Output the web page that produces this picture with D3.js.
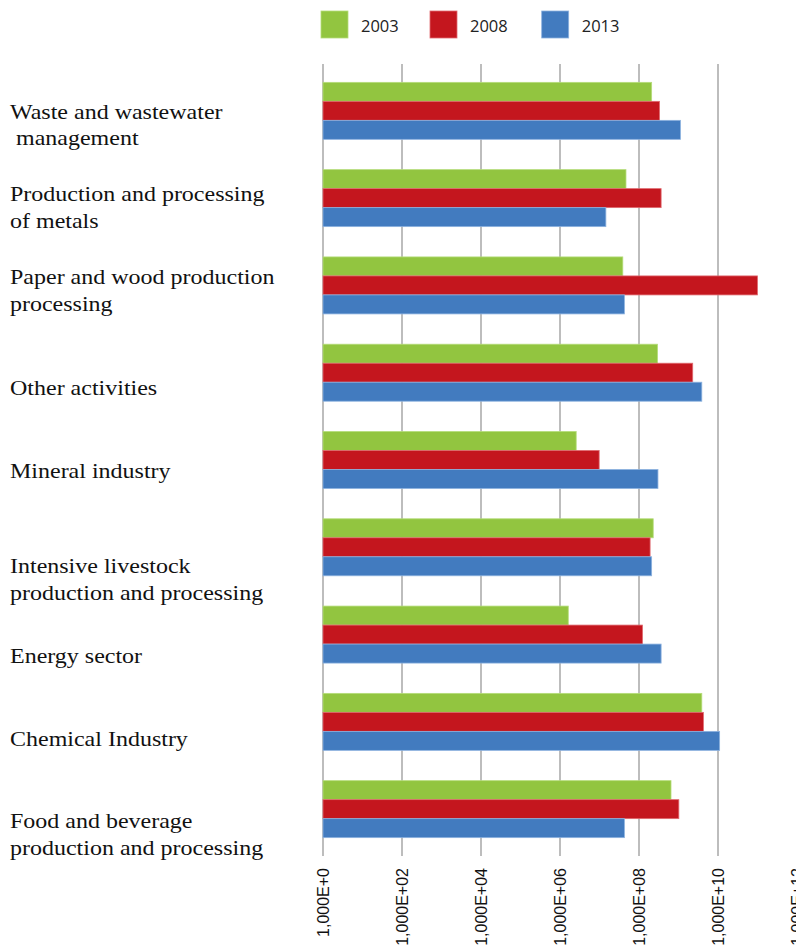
<!DOCTYPE html>
<html>
<head>
<meta charset="utf-8">
<script src="https://cdn.jsdelivr.net/npm/d3@7/dist/d3.min.js"></script>
<style>
  html, body { margin: 0; padding: 0; background: #fff; }
  svg { display: block; }
</style>
</head>
<body>
<svg id="chart" width="796" height="949"></svg>
<script>
// ---- data ----
const categories = [
  "Waste and wastewater\n management",
  "Production and processing\nof metals",
  "Paper and wood production\nprocessing",
  "Other activities",
  "Mineral industry",
  "Intensive livestock\nproduction and processing",
  "Energy sector",
  "Chemical Industry",
  "Food and beverage\nproduction and processing"
];
const seriesNames = ["2003", "2008", "2013"];
const values2003 = [2.09e8, 4.68e7, 3.89e7, 2.95e8, 2.57e6, 2.29e8, 1.62e6, 3.89e9, 6.46e8];
const values2008 = [3.31e8, 3.63e8, 1.0e11, 2.29e9, 9.8e6, 1.91e8, 1.23e8, 4.27e9, 1.02e9];
const values2013 = [1.12e9, 1.45e7, 4.27e7, 3.89e9, 3.02e8, 2.09e8, 3.63e8, 1.10e10, 4.27e7];
const tickValues = [1, 1e2, 1e4, 1e6, 1e8, 1e10, 1e12];
const tickLabels = ["1,000E+0", "1,000E+02", "1,000E+04", "1,000E+06", "1,000E+08", "1,000E+10", "1,000E+12"];

// ---- layout / style ----
const colors = ["#92c540", "#c4161e", "#427bbf"];
const strokes = ["#b5dc7a", "#e06a70", "#8db2df"];
const labelShift = [7.7, 2.9, -1.1, 22.3, 18.3, 26, 28.1, 24.1, 19.1];

const svg = d3.select("#chart");
const series = [values2003, values2008, values2013];

const x = d3.scaleLog().domain([1, 1e12]).range([323, 797]);
const y = d3.scaleBand().domain(d3.range(categories.length))
  .range([67.2, 852.8]).paddingInner(0.347).paddingOuter(0.1735);
const ySub = d3.scaleBand().domain(d3.range(series.length)).range([0, y.bandwidth()]);

// gridlines
svg.append("g").selectAll("line").data(tickValues).join("line")
  .attr("x1", d => x(d)).attr("x2", d => x(d))
  .attr("y1", 64).attr("y2", 856)
  .attr("stroke", "#bdbdbd").attr("stroke-width", 2);

// bars
const groups = svg.append("g").selectAll("g").data(categories).join("g")
  .attr("transform", (d, i) => `translate(0,${y(i)})`);
groups.selectAll("rect")
  .data((d, i) => series.map((s, k) => ({ k, v: s[i] })))
  .join("rect")
  .attr("x", x(1))
  .attr("y", d => ySub(d.k))
  .attr("width", d => x(d.v) - x(1))
  .attr("height", ySub.bandwidth())
  .attr("fill", d => colors[d.k])
  .attr("stroke", d => strokes[d.k])
  .attr("stroke-width", 0.8);

// category labels
const labels = svg.append("g").selectAll("text").data(categories).join("text")
  .attr("transform", (d, i) => `translate(10,${y(i) + y.bandwidth() / 2 + labelShift[i]}) scale(1.2,1)`)
  .attr("font-family", "'Liberation Serif', 'Times New Roman', serif")
  .attr("font-size", 20)
  .attr("fill", "#111")
  .style("white-space", "pre");
labels.selectAll("tspan").data(d => d.split("\n")).join("tspan")
  .attr("x", 0)
  .attr("y", (d, j) => j * 26.7)
  .text(d => d);

// x tick labels (rotated)
svg.append("g").selectAll("text").data(tickValues).join("text")
  .attr("transform", d => `translate(${x(d) + 5.5},868) rotate(-90)`)
  .attr("text-anchor", "end")
  .attr("font-family", "'Liberation Sans', Arial, sans-serif")
  .attr("font-size", 16)
  .attr("fill", "#111")
  .text((d, i) => tickLabels[i]);

// legend
const legendX = [321, 430, 541.7];
const leg = svg.append("g").selectAll("g").data(seriesNames).join("g")
  .attr("transform", (d, i) => `translate(${legendX[i]},11)`);
leg.append("rect").attr("width", 27).attr("height", 27)
  .attr("fill", (d, i) => colors[i]).attr("stroke", (d, i) => strokes[i]).attr("stroke-width", 0.8);
leg.append("text").attr("x", 40).attr("y", 20.5)
  .attr("font-family", "'Open Sans', 'Noto Sans', sans-serif")
  .attr("font-size", 16.5)
  .attr("fill", "#222")
  .text(d => d);
</script>
</body>
</html>
